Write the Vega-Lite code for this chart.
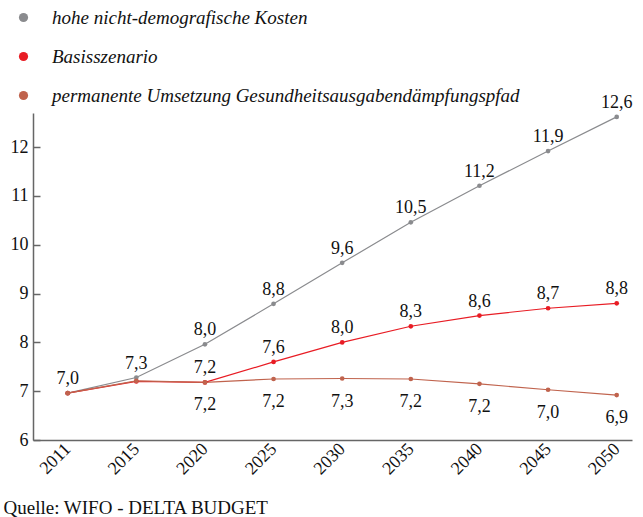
{
  "$schema": "https://vega.github.io/schema/vega-lite/v6.json",
  "autosize": "none",
  "width": 599,
  "height": 327,
  "padding": {"left": 33, "top": 113, "right": 11, "bottom": 77},
  "background": "white",
  "config": {
    "font": "Liberation Serif",
    "axis": {"labelFont": "Liberation Serif", "titleFont": "Liberation Serif"},
    "legend": {"labelFont": "Liberation Serif", "titleFont": "Liberation Serif"},
    "text": {"font": "Liberation Serif"},
    "view": {"stroke": null}
  },
  "data": {
    "values": [
      {"series": "hohe nicht-demografische Kosten", "year": "2011", "value": 6.96, "label": "7,0", "pos": "above"},
      {"series": "hohe nicht-demografische Kosten", "year": "2015", "value": 7.28, "label": "7,3", "pos": "above"},
      {"series": "hohe nicht-demografische Kosten", "year": "2020", "value": 7.96, "label": "8,0", "pos": "above"},
      {"series": "hohe nicht-demografische Kosten", "year": "2025", "value": 8.79, "label": "8,8", "pos": "above"},
      {"series": "hohe nicht-demografische Kosten", "year": "2030", "value": 9.63, "label": "9,6", "pos": "above"},
      {"series": "hohe nicht-demografische Kosten", "year": "2035", "value": 10.46, "label": "10,5", "pos": "above"},
      {"series": "hohe nicht-demografische Kosten", "year": "2040", "value": 11.21, "label": "11,2", "pos": "above"},
      {"series": "hohe nicht-demografische Kosten", "year": "2045", "value": 11.92, "label": "11,9", "pos": "above"},
      {"series": "hohe nicht-demografische Kosten", "year": "2050", "value": 12.62, "label": "12,6", "pos": "above"},
      {"series": "Basisszenario", "year": "2011", "value": 6.96, "label": null, "pos": "above"},
      {"series": "Basisszenario", "year": "2015", "value": 7.2, "label": null, "pos": "above"},
      {"series": "Basisszenario", "year": "2020", "value": 7.18, "label": "7,2", "pos": "above"},
      {"series": "Basisszenario", "year": "2025", "value": 7.6, "label": "7,6", "pos": "above"},
      {"series": "Basisszenario", "year": "2030", "value": 8.0, "label": "8,0", "pos": "above"},
      {"series": "Basisszenario", "year": "2035", "value": 8.33, "label": "8,3", "pos": "above"},
      {"series": "Basisszenario", "year": "2040", "value": 8.55, "label": "8,6", "pos": "above"},
      {"series": "Basisszenario", "year": "2045", "value": 8.7, "label": "8,7", "pos": "above"},
      {"series": "Basisszenario", "year": "2050", "value": 8.8, "label": "8,8", "pos": "above"},
      {"series": "permanente Umsetzung Gesundheitsausgabendämpfungspfad", "year": "2011", "value": 6.96, "label": null, "pos": "below"},
      {"series": "permanente Umsetzung Gesundheitsausgabendämpfungspfad", "year": "2015", "value": 7.21, "label": null, "pos": "below"},
      {"series": "permanente Umsetzung Gesundheitsausgabendämpfungspfad", "year": "2020", "value": 7.18, "label": "7,2", "pos": "below"},
      {"series": "permanente Umsetzung Gesundheitsausgabendämpfungspfad", "year": "2025", "value": 7.25, "label": "7,2", "pos": "below"},
      {"series": "permanente Umsetzung Gesundheitsausgabendämpfungspfad", "year": "2030", "value": 7.26, "label": "7,3", "pos": "below"},
      {"series": "permanente Umsetzung Gesundheitsausgabendämpfungspfad", "year": "2035", "value": 7.25, "label": "7,2", "pos": "below"},
      {"series": "permanente Umsetzung Gesundheitsausgabendämpfungspfad", "year": "2040", "value": 7.15, "label": "7,2", "pos": "below"},
      {"series": "permanente Umsetzung Gesundheitsausgabendämpfungspfad", "year": "2045", "value": 7.03, "label": "7,0", "pos": "below"},
      {"series": "permanente Umsetzung Gesundheitsausgabendämpfungspfad", "year": "2050", "value": 6.92, "label": "6,9", "pos": "below"}
    ]
  },
  "encoding": {
    "x": {
      "field": "year",
      "type": "ordinal",
      "sort": null,
      "scale": {"type": "point", "padding": 0.364, "align": 0.694},
      "axis": {
        "labelAngle": -45,
        "labelAlign": "right",
        "labelBaseline": "middle",
        "labelFont": "Liberation Serif",
        "labelFontSize": 18,
        "labelFontWeight": "normal",
        "labelColor": "#111",
        "labelPadding": 6,
        "ticks": false,
        "domainColor": "#666",
        "domainWidth": 1.5,
        "title": "Quelle: WIFO - DELTA BUDGET",
        "titleFont": "Liberation Serif",
        "titleFontSize": 19,
        "titleFontWeight": "normal",
        "titleColor": "#111",
        "titleAlign": "left",
        "titleAnchor": "start",
        "titleBaseline": "alphabetic",
        "titleX": -30,
        "titleY": 73
      }
    },
    "y": {
      "field": "value",
      "type": "quantitative",
      "scale": {"domain": [6, 12.7], "nice": false, "zero": false},
      "axis": {
        "values": [6, 7, 8, 9, 10, 11, 12],
        "grid": false,
        "title": null,
        "labelFont": "Liberation Serif",
        "labelFontSize": 18,
        "labelColor": "#111",
        "tickSize": -7,
        "tickColor": "#666",
        "tickWidth": 1.5,
        "labelPadding": 12,
        "domainColor": "#666",
        "domainWidth": 1.5
      }
    }
  },
  "layer": [
    {
      "mark": {"type": "line", "strokeWidth": 1.2, "point": {"filled": true, "size": 22}},
      "encoding": {
        "color": {
          "field": "series",
          "type": "nominal",
          "scale": {
            "domain": ["hohe nicht-demografische Kosten", "Basisszenario", "permanente Umsetzung Gesundheitsausgabendämpfungspfad"],
            "range": ["#8a8b8e", "#e81c24", "#c0634d"]
          },
          "legend": {
            "title": null,
            "orient": "none",
            "legendX": -19,
            "legendY": -105,
            "symbolType": "circle",
            "symbolSize": 85,
            "symbolStrokeWidth": 0,
            "labelFont": "Liberation Serif",
            "labelFontSize": 19,
            "labelFontStyle": "italic",
            "labelColor": "#111",
            "labelOffset": 19,
            "rowPadding": 19,
            "labelLimit": 600
          }
        }
      }
    },
    {
      "transform": [{"filter": "datum.label != null && datum.pos == 'above'"}],
      "mark": {"type": "text", "dy": -9, "baseline": "alphabetic", "fontSize": 18, "color": "#111", "font": "Liberation Serif"},
      "encoding": {"text": {"field": "label"}}
    },
    {
      "transform": [{"filter": "datum.label != null && datum.pos == 'below'"}],
      "mark": {"type": "text", "dy": 28, "baseline": "alphabetic", "fontSize": 18, "color": "#111", "font": "Liberation Serif"},
      "encoding": {"text": {"field": "label"}}
    }
  ]
}
